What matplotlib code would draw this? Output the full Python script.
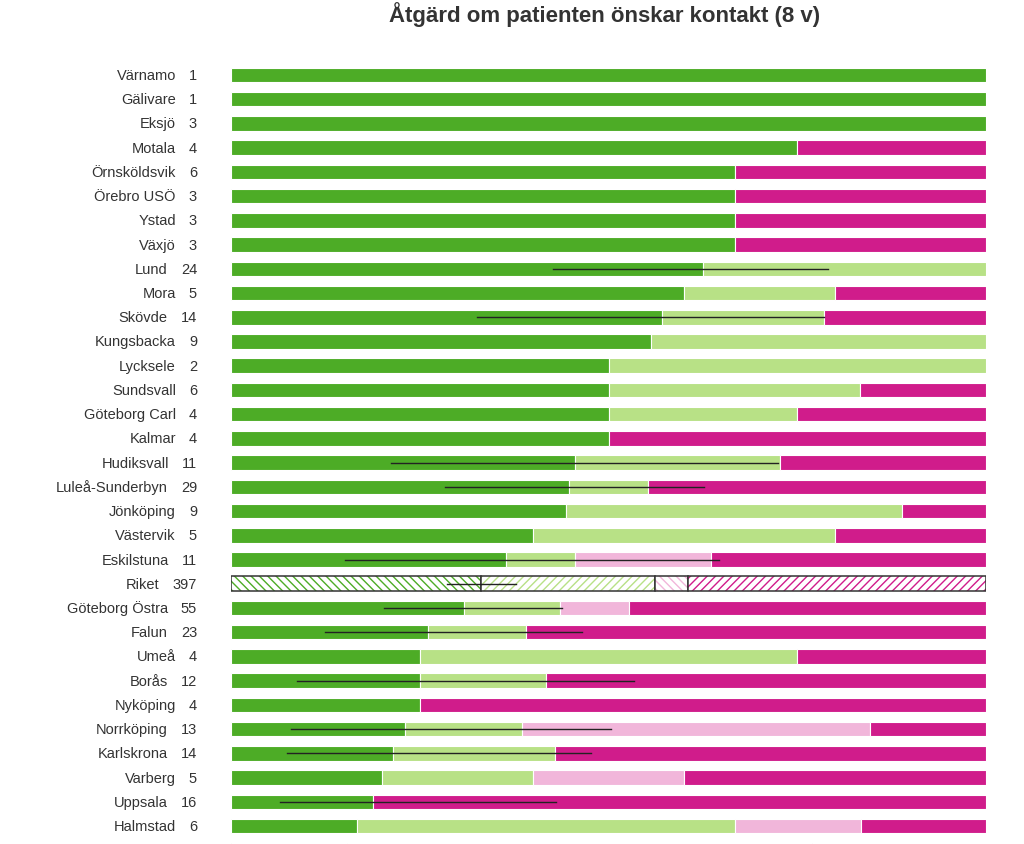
import numpy as np
import matplotlib.pyplot as plt

plt.rcParams['font.family'] = ['Liberation Sans', 'DejaVu Sans']
plt.rcParams['hatch.linewidth'] = 1.0

# units, number of patients, share per category
units = ['Värnamo', 'Gälivare', 'Eksjö', 'Motala', 'Örnsköldsvik', 'Örebro USÖ',
         'Ystad', 'Växjö', 'Lund', 'Mora', 'Skövde', 'Kungsbacka', 'Lycksele',
         'Sundsvall', 'Göteborg Carl', 'Kalmar', 'Hudiksvall', 'Luleå-Sunderbyn',
         'Jönköping', 'Västervik', 'Eskilstuna', 'Riket', 'Göteborg Östra',
         'Falun', 'Umeå', 'Borås', 'Nyköping', 'Norrköping', 'Karlskrona',
         'Varberg', 'Uppsala', 'Halmstad', '']
counts = ['1', '1', '3', '4', '6', '3', '3', '3', '24', '5', '14', '9', '2',
          '6', '4', '4', '11', '29', '9', '5', '11', '397', '55', '23', '4',
          '12', '4', '13', '14', '5', '16', '6', '']

dark_green = [1.0, 1.0, 1.0, 0.75, 0.667, 0.667, 0.667, 0.667, 0.625, 0.6,
              0.571, 0.556, 0.5, 0.5, 0.5, 0.5, 0.455, 0.448, 0.444, 0.4,
              0.364, 0.331, 0.309, 0.261, 0.25, 0.25, 0.25, 0.231, 0.214,
              0.2, 0.1875, 0.167, 0.154]
light_green = [0, 0, 0, 0, 0, 0, 0, 0, 0.375, 0.2, 0.215, 0.444, 0.5, 0.333,
               0.25, 0, 0.272, 0.104, 0.445, 0.4, 0.091, 0.231, 0.127, 0.130,
               0.5, 0.167, 0, 0.154, 0.215, 0.2, 0, 0.5, 0.615]
pink = [0, 0, 0, 0, 0, 0, 0, 0, 0, 0, 0, 0, 0, 0, 0, 0, 0, 0, 0, 0, 0.181,
        0.043, 0.091, 0, 0, 0, 0, 0.461, 0, 0.2, 0, 0.167, 0]
magenta = [0, 0, 0, 0.25, 0.333, 0.333, 0.333, 0.333, 0, 0.2, 0.214, 0, 0,
           0.167, 0.25, 0.5, 0.273, 0.448, 0.111, 0.2, 0.364, 0.395, 0.473,
           0.609, 0.25, 0.583, 0.75, 0.154, 0.571, 0.4, 0.8125, 0.166, 0.231]

# confidence intervals for the dark green share (None = not shown)
ci_low = [None] * 8 + [0.426, None, 0.326] + [None] * 5 + [0.212, 0.283, None,
          None, 0.151, 0.286, 0.203, 0.125, None, 0.087, None, 0.079, 0.074,
          None, 0.065, None, None]
ci_high = [None] * 8 + [0.791, None, 0.785] + [None] * 5 + [0.724, 0.626, None,
           None, 0.646, 0.377, 0.438, 0.465, None, 0.534, None, 0.503, 0.477,
           None, 0.430, None, None]

colors = ['#4dac26', '#b8e186', '#f1b6da', '#d01c8b']
hatches = ['\\\\\\\\', '////', '\\\\\\\\', '////']
series = [dark_green, light_green, pink, magenta]

n = len(units)
row_px = (826 - 75) / 31
top_px = 76 - row_px / 2
bot_px = top_px + n * row_px

fig = plt.figure(figsize=(10.24, 8.45), dpi=100)
ax = fig.add_axes([231 / 1024, 1 - bot_px / 845, 755 / 1024, (bot_px - top_px) / 845])

y = np.arange(n)
left = np.zeros(n)
for vals, col, hat in zip(series, colors, hatches):
    vals = np.array(vals)
    for i in range(n):
        if vals[i] <= 0:
            continue
        if units[i] == 'Riket':
            ax.barh(y[i], vals[i], left=left[i], height=0.6, color='white',
                    edgecolor=col, hatch=hat, linewidth=0)
            ax.barh(y[i], vals[i], left=left[i], height=0.6, fill=False,
                    edgecolor='#333333', linewidth=1.1)
        else:
            ax.barh(y[i], vals[i], left=left[i], height=0.6, color=col,
                    edgecolor='white', linewidth=0.8)
    left += vals

for i in range(n):
    if ci_low[i] is not None:
        ax.plot([ci_low[i], ci_high[i]], [y[i], y[i]], color='#222222', lw=1.0)

ax.set_xlim(0, 1)
ax.set_ylim(n - 0.5, -0.5)
ax.axis('off')

# count right-aligned at x=197px, name placed a fixed gap to the left of it
renderer = fig.canvas.get_renderer()
for i in range(n):
    if not units[i]:
        continue
    ct = ax.text(-34 / 755, y[i], counts[i], ha='right', va='center',
                 fontsize=10.5, color='#333333', clip_on=False)
    bb = ct.get_window_extent(renderer)
    x_name = ax.transData.inverted().transform((bb.x0 - 13, 0))[0]
    ax.text(x_name, y[i], units[i], ha='right', va='center', fontsize=10.5,
            color='#333333', clip_on=False)

fig.text(605 / 1024, 1 - 15 / 845, 'Åtgärd om patienten önskar kontakt (8 v)',
         ha='center', va='center', fontsize=16, fontweight='bold', color='#333333')

fig.savefig('out.png', dpi=100)
